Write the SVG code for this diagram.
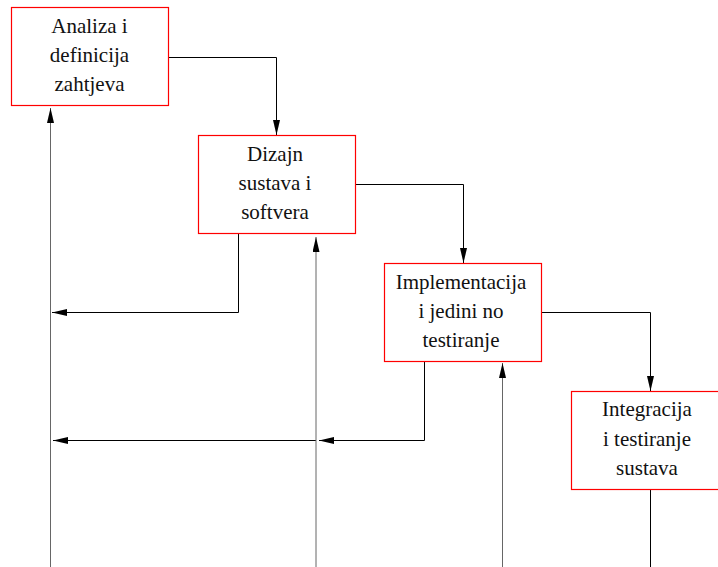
<svg xmlns="http://www.w3.org/2000/svg" width="718" height="567" viewBox="0 0 718 567">
  <style>
    .box { fill: #fff; stroke: #ff0000; stroke-width: 1.2; }
    .lbl { font-family: "Liberation Serif", "Times New Roman", serif; font-size: 21px; fill: #111; text-anchor: middle; }
    .link { fill: none; stroke: #000; stroke-width: 1; }
    .back { fill: none; stroke: #666; stroke-width: 1; }
  </style>
  <defs>
    <marker id="arrow" viewBox="0 0 15 7" refX="15" refY="3.5" markerWidth="15" markerHeight="7" markerUnits="userSpaceOnUse" orient="auto">
      <path d="M0,0 L15,3.5 L0,7 z" fill="#000"/>
    </marker>
  </defs>
  <rect width="718" height="567" fill="#fff"/>

  <g id="connectors">
    <!-- forward flow between phases -->
    <path class="link" d="M168.5,57.5 H276.5 V135" marker-end="url(#arrow)"/>
    <path class="link" d="M355.5,184.5 H463.5 V263" marker-end="url(#arrow)"/>
    <path class="link" d="M541.5,312.5 H650.5 V391" marker-end="url(#arrow)"/>
    <path class="link" d="M650.5,489.5 V567"/>
    <!-- feedback to earlier phases -->
    <path class="link" d="M238.5,233.5 V312.5 H52" marker-end="url(#arrow)"/>
    <path class="link" d="M424.5,361.5 V440.5 H319" marker-end="url(#arrow)"/>
    <path class="link" d="M316,440.5 H53" marker-end="url(#arrow)"/>
    <path class="back" d="M50.5,567 V108" marker-end="url(#arrow)"/>
    <path class="back" d="M316,567 V237" marker-end="url(#arrow)"/>
    <path class="back" d="M502.5,567 V363" marker-end="url(#arrow)"/>
  </g>

  <g id="analiza">
    <rect class="box" x="11.5" y="7.5" width="157" height="98"/>
    <text class="lbl" x="89.5" y="32.5">Analiza i</text>
    <text class="lbl" x="89.5" y="62">definicija</text>
    <text class="lbl" x="89.5" y="91">zahtjeva</text>
  </g>

  <g id="dizajn">
    <rect class="box" x="198.5" y="135.5" width="157" height="98"/>
    <text class="lbl" x="275" y="160.5">Dizajn</text>
    <text class="lbl" x="275" y="190">sustava i</text>
    <text class="lbl" x="275" y="219">softvera</text>
  </g>

  <g id="implementacija">
    <rect class="box" x="384.5" y="263.5" width="157" height="98"/>
    <text class="lbl" x="461" y="288.5">Implementacija</text>
    <text class="lbl" x="461" y="318">i jedini no</text>
    <text class="lbl" x="461" y="347">testiranje</text>
  </g>

  <g id="integracija">
    <rect class="box" x="571.5" y="391.5" width="157" height="98"/>
    <text class="lbl" x="647" y="416">Integracija</text>
    <text class="lbl" x="647" y="445.5">i testiranje</text>
    <text class="lbl" x="647" y="474.5">sustava</text>
  </g>
</svg>
